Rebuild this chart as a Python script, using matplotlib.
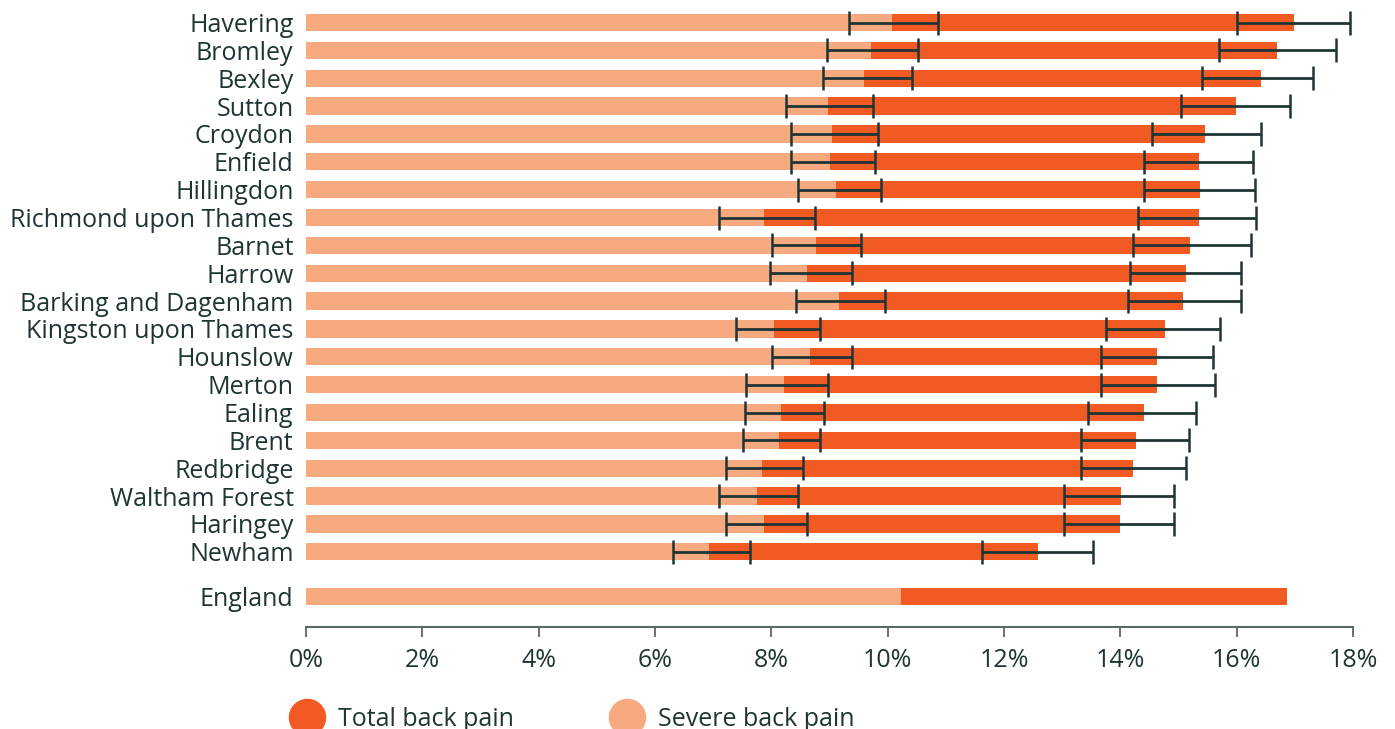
import matplotlib.pyplot as plt
from matplotlib.lines import Line2D

boroughs = [
    "Havering", "Bromley", "Bexley", "Sutton", "Croydon", "Enfield",
    "Hillingdon", "Richmond upon Thames", "Barnet", "Harrow",
    "Barking and Dagenham", "Kingston upon Thames", "Hounslow", "Merton",
    "Ealing", "Brent", "Redbridge", "Waltham Forest", "Haringey", "Newham",
]

# total back pain (%) with 95% CI
total = [16.99, 16.70, 16.41, 15.99, 15.46, 15.35, 15.37, 15.35, 15.20, 15.13,
         15.08, 14.76, 14.63, 14.63, 14.40, 14.27, 14.22, 14.02, 13.99, 12.58]
total_lo = [16.00, 15.70, 15.41, 15.04, 14.55, 14.41, 14.41, 14.30, 14.21, 14.17,
            14.13, 13.76, 13.67, 13.67, 13.44, 13.32, 13.32, 13.03, 13.03, 11.63]
total_hi = [17.94, 17.70, 17.32, 16.91, 16.41, 16.28, 16.32, 16.33, 16.25, 16.08,
            16.08, 15.71, 15.59, 15.63, 15.30, 15.18, 15.13, 14.93, 14.93, 13.53]

# severe back pain (%) with 95% CI
severe = [10.08, 9.71, 9.59, 8.97, 9.04, 9.00, 9.12, 7.88, 8.76, 8.62,
          9.17, 8.05, 8.67, 8.21, 8.17, 8.13, 7.84, 7.76, 7.87, 6.93]
severe_lo = [9.34, 8.96, 8.88, 8.26, 8.33, 8.33, 8.46, 7.10, 8.01, 7.97,
             8.42, 7.39, 8.01, 7.56, 7.55, 7.51, 7.22, 7.10, 7.22, 6.31]
severe_hi = [10.87, 10.53, 10.42, 9.75, 9.83, 9.79, 9.88, 8.75, 9.55, 9.38,
             9.96, 8.84, 9.38, 8.97, 8.91, 8.83, 8.54, 8.45, 8.62, 7.64]

england_total = 16.87
england_severe = 10.23

dark = "#f15a22"
light = "#f7aa80"
ink = "#1f3535"

plt.rcParams['font.family'] = ['Open Sans', 'DejaVu Sans']

fig = plt.figure(figsize=(13.95, 7.29), dpi=100)
ax = fig.add_axes([306 / 1395, 1 - 627 / 729, (1353 - 306) / 1395, (627 - 3) / 729])

pos = list(range(len(boroughs)))
eng_pos = len(boroughs) + 0.6
h = 0.62

ax.barh(pos, total, height=h, color=dark, zorder=2)
ax.barh(pos, severe, height=h, color=light, zorder=3)
ax.barh([eng_pos], [england_total], height=h, color=dark, zorder=2)
ax.barh([eng_pos], [england_severe], height=h, color=light, zorder=3)

t_err = [[t - lo for t, lo in zip(total, total_lo)],
         [hi - t for t, hi in zip(total, total_hi)]]
s_err = [[s - lo for s, lo in zip(severe, severe_lo)],
         [hi - s for s, hi in zip(severe, severe_hi)]]
ax.errorbar(total, pos, xerr=t_err, fmt="none", ecolor=ink,
            elinewidth=2, capsize=8.5, capthick=1.8, zorder=4)
ax.errorbar(severe, pos, xerr=s_err, fmt="none", ecolor=ink,
            elinewidth=2, capsize=8.5, capthick=1.8, zorder=4)

ax.set_yticks(pos + [eng_pos])
ax.set_yticklabels(boroughs + ["England"])
ax.set_ylim(len(boroughs) + 1.7, -0.7)
ax.set_xlim(0, 18)
ax.set_xticks(range(0, 19, 2))
ax.set_xticklabels([f"{v}%" for v in range(0, 19, 2)])

for side in ["top", "right", "left"]:
    ax.spines[side].set_visible(False)
ax.spines["bottom"].set_color("#5a6868")
ax.spines["bottom"].set_linewidth(1.5)
ax.tick_params(axis="y", length=0, pad=9, labelsize=18, labelcolor=ink)
ax.tick_params(axis="x", length=7, width=1.3, color="#5a6868", pad=8,
               labelsize=18, labelcolor=ink)

handles = [
    Line2D([], [], marker="o", linestyle="none", markersize=26,
           markerfacecolor=dark, markeredgecolor=dark, label="Total back pain"),
    Line2D([], [], marker="o", linestyle="none", markersize=26,
           markerfacecolor=light, markeredgecolor=light, label="Severe back pain"),
]
fig.legend(handles=handles, loc="center left", bbox_to_anchor=(272 / 1395, 1 - 719 / 729),
           ncol=2, frameon=False, fontsize=18, labelcolor=ink,
           handletextpad=0.25, columnspacing=3.5, borderaxespad=0)

fig.savefig("out.png", dpi=100)
